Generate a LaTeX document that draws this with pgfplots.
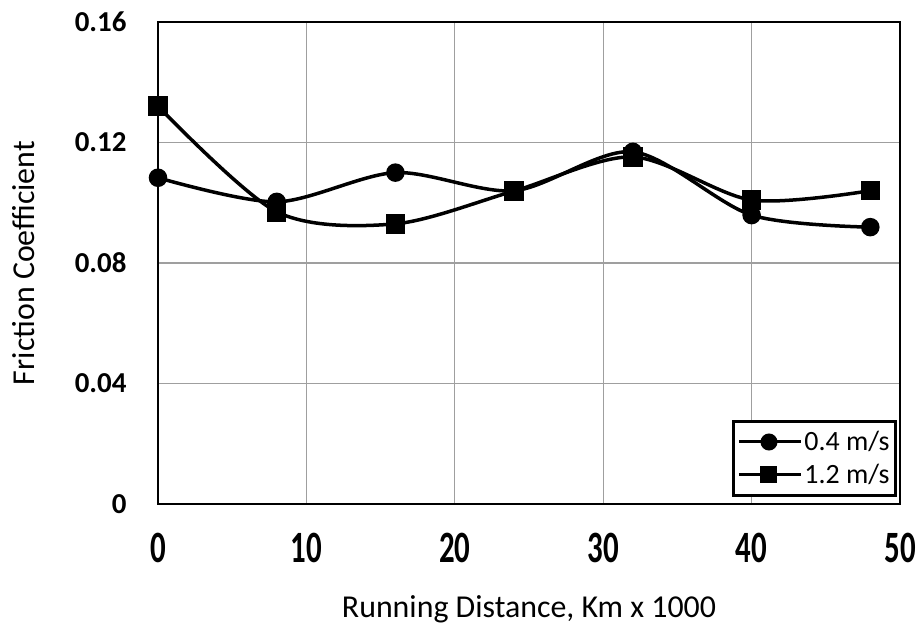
\documentclass[border=0pt]{standalone}
\usepackage{fontspec}
\setmainfont{Carlito}
\usepackage{graphicx}
\usepackage{pgfplots}
\pgfplotsset{compat=1.18}
\begin{document}
\begin{tikzpicture}
\begin{axis}[
  name=ax,
  scale only axis,
  width=742bp, height=482bp,
  xmin=0, xmax=50, ymin=0, ymax=0.16,
  xtick={0,10,20,30,40,50},
  ytick={0,0.04,0.08,0.12,0.16},
  yticklabels={0,0.04,0.08,0.12,0.16},
  grid=major,
  grid style={gray!75, line width=1.2bp},
  axis line style={black, line width=2.5bp},
  tick style={draw=none},
  /pgf/number format/assume math mode=true,
  yticklabel style={font=\bfseries\fontsize{29}{30}\selectfont, anchor=east, xshift=-28bp},
  xticklabel style={font=\bfseries\fontsize{31}{32}\selectfont, anchor=center, yshift=-44bp},
  xticklabel={\scalebox{1}[1.45]{\pgfmathprintnumber{\tick}}},
  xlabel={Running Distance, Km x 1000},
  ylabel={Friction Coefficient},
  every axis x label/.style={at={(rel axis cs:0.5,0)}, anchor=center, yshift=-105bp,
    font=\fontsize{32}{34}\selectfont},
  every axis y label/.style={at={(rel axis cs:0,0.5)}, anchor=center, xshift=-134bp, rotate=90,
    font=\fontsize{32}{34}\selectfont},
  legend style={at={(0.996,0.015)}, anchor=south east, draw=black, line width=3bp,
    font=\fontsize{28}{30}\selectfont, inner xsep=4bp, inner ysep=8bp, row sep=8bp,
    cells={anchor=west}},
  legend image code/.code={\draw[#1, line width=3bp] (0bp,0bp) -- (62bp,0bp) plot[mark size=7bp] coordinates {(30bp,0bp)};},
]
\addplot[black, line width=3.5bp, smooth, tension=0.5, mark=*, mark size=7.5bp, mark options={solid}]
  coordinates {(0,0.1083) (8,0.1003) (16,0.1100) (24,0.1040) (32,0.1169) (40,0.0959) (48,0.0919)};
\addlegendentry{0.4 m/s}
\addplot[black, line width=3.5bp, smooth, tension=0.5, mark=square*, mark size=8bp, mark options={solid}]
  coordinates {(0,0.1321) (8,0.0970) (16,0.0930) (24,0.1039) (32,0.1152) (40,0.1009) (48,0.1040)};
\addlegendentry{1.2 m/s}
\end{axis}
\pgfresetboundingbox
\path (ax.south west) ++(-158bp,-124bp) coordinate (bl);
\path (ax.north east) ++(19bp,22bp) coordinate (tr);
\path (bl) rectangle (tr);
\end{tikzpicture}
\end{document}
